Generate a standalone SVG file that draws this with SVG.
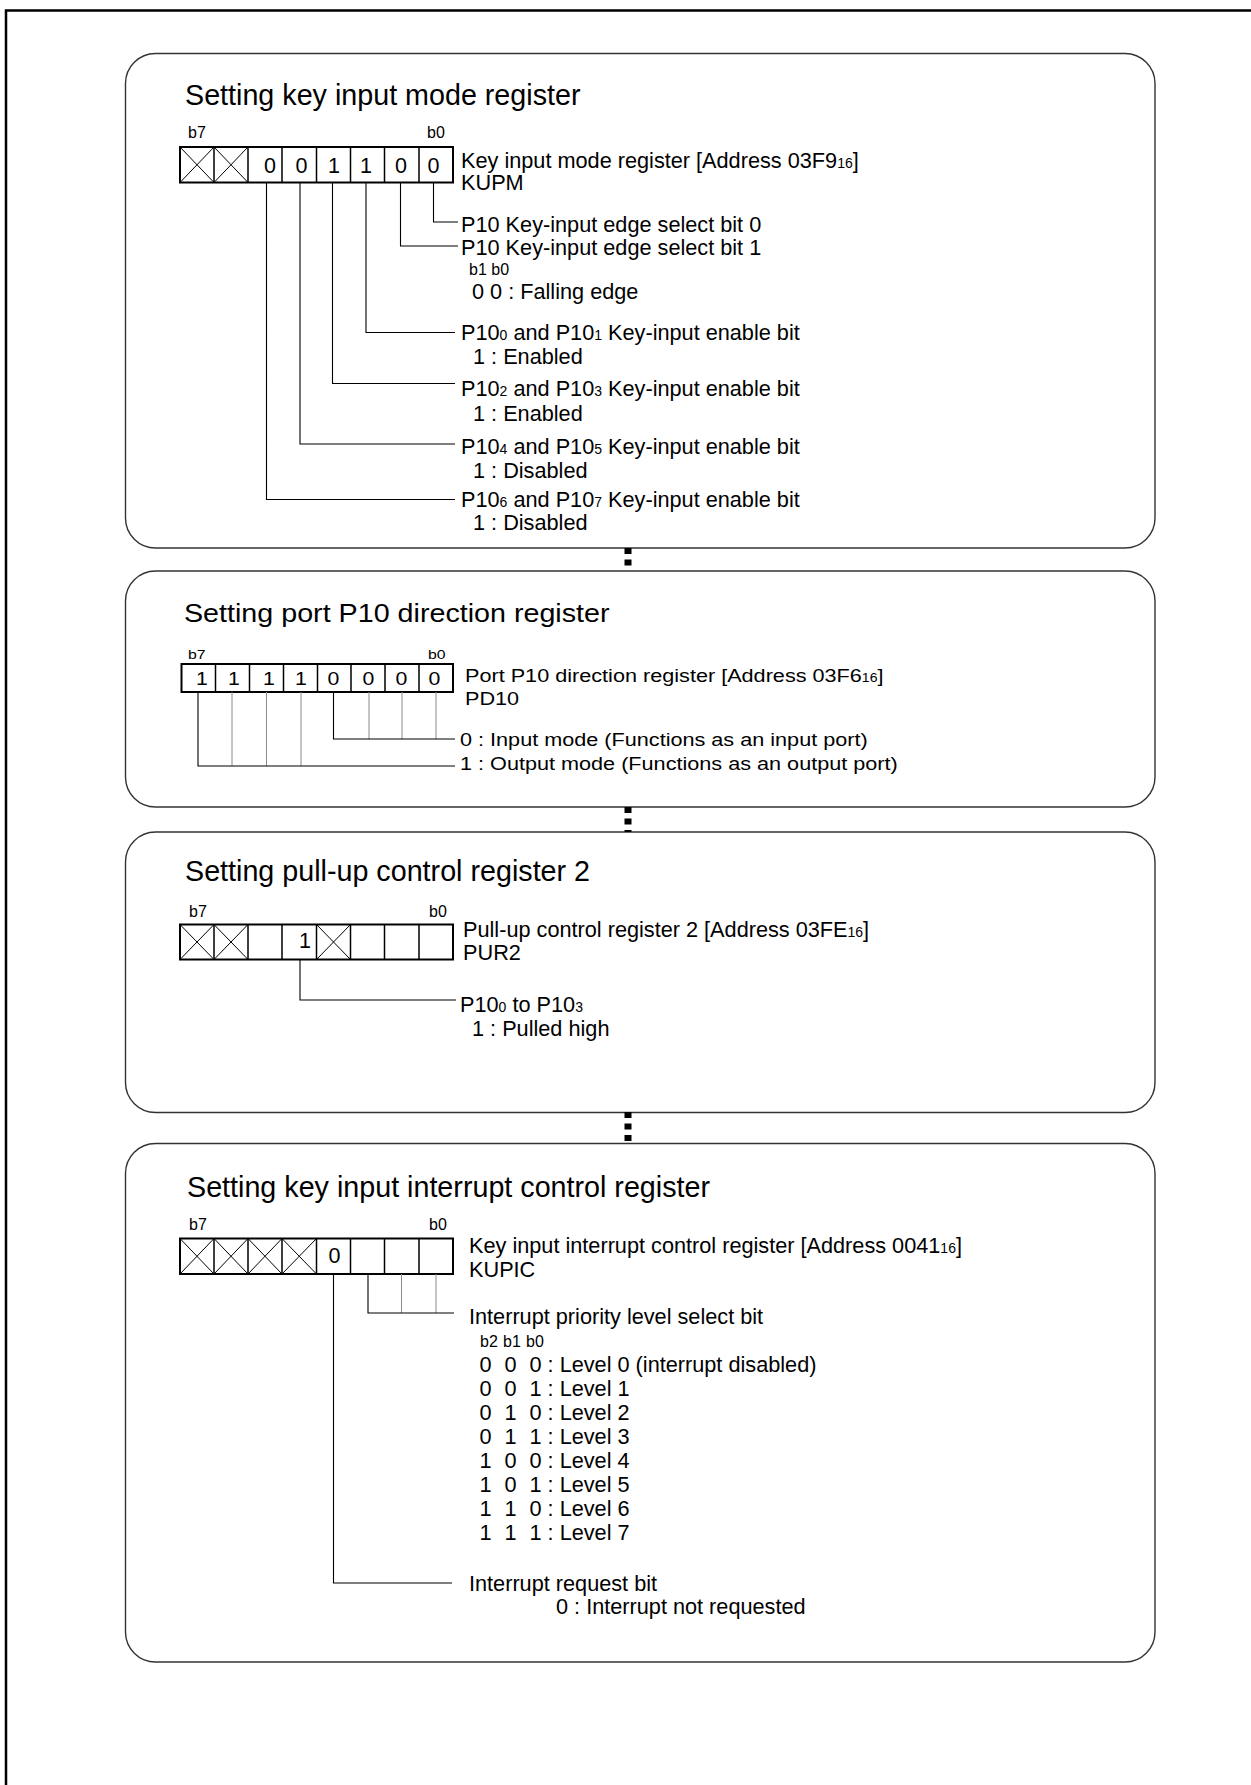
<svg xmlns="http://www.w3.org/2000/svg" width="1251" height="1785" viewBox="0 0 1251 1785">
<style>
text{font-family:"Liberation Sans",Arial,Helvetica,sans-serif;fill:#000}
.t{font-size:28.7px}
.b{font-size:21.7px}
.sub{font-size:14px}
.sm{font-size:16px}
.d{font-size:21.5px;text-anchor:middle}
.t2{font-size:25.5px}
.b2{font-size:18.5px}
.sub2{font-size:12px}
.sm2{font-size:13.5px}
.d2{font-size:18.5px;text-anchor:middle}
.frame{fill:none;stroke:#000;stroke-width:2.5}
.panel{fill:#fff;stroke:#333;stroke-width:1.4}
.reg{fill:#fff;stroke:#000;stroke-width:2}
.cell{stroke:#000;stroke-width:1.5;fill:none}
.x{stroke:#000;stroke-width:1;fill:none}
.ld{fill:none;stroke:#000;stroke-width:1.1}
.lg{fill:none;stroke:#8a8a8a;stroke-width:1}
.conn{stroke:#000;stroke-width:7;stroke-dasharray:6 5.5;fill:none}
</style>
<rect class="frame" x="6" y="10.5" width="1300" height="1800"/>

<g id="kupm">
<rect class="panel" x="125.5" y="53.5" width="1029.5" height="494.5" rx="30"/>
<text class="t" x="185" y="105">Setting key input mode register</text>
<text class="sm" x="188" y="138">b7</text>
<text class="sm" x="427" y="138">b0</text>
<rect class="reg" x="180" y="147" width="273" height="35.5"/>
<path class="cell" d="M214,147V182.5M248,147V182.5M282,147V182.5M316.5,147V182.5M350.5,147V182.5M384.5,147V182.5M419,147V182.5"/>
<path class="x" d="M180,147L214,182.5M214,147L180,182.5M214,147L248,182.5M248,147L214,182.5"/>
<text class="d" x="270" y="173">0</text>
<text class="d" x="301.5" y="173">0</text>
<text class="d" x="334" y="173">1</text>
<text class="d" x="366" y="173">1</text>
<text class="d" x="401" y="173">0</text>
<text class="d" x="433.5" y="173">0</text>
<text class="b" x="461" y="168">Key input mode register [Address 03F9<tspan class="sub">16</tspan>]</text>
<text class="b" x="461" y="190">KUPM</text>
<path class="ld" d="M433.5,182.5V222H458M400.5,182.5V246H458M366,182.5V332.5H455M332.5,182.5V383.5H455M300,182.5V444H455M266.5,182.5V499.5H455"/>
<text class="b" x="461" y="231.5">P10 Key-input edge select bit 0</text>
<text class="b" x="461" y="255">P10 Key-input edge select bit 1</text>
<text class="sm" x="469" y="275">b1 b0</text>
<text class="b" x="472" y="298.5">0 0 : Falling edge</text>
<text class="b" x="461" y="339.5">P10<tspan class="sub">0</tspan> and P10<tspan class="sub">1</tspan> Key-input enable bit</text>
<text class="b" x="473" y="364">1 : Enabled</text>
<text class="b" x="461" y="396">P10<tspan class="sub">2</tspan> and P10<tspan class="sub">3</tspan> Key-input enable bit</text>
<text class="b" x="473" y="420.5">1 : Enabled</text>
<text class="b" x="461" y="454">P10<tspan class="sub">4</tspan> and P10<tspan class="sub">5</tspan> Key-input enable bit</text>
<text class="b" x="473" y="477.5">1 : Disabled</text>
<text class="b" x="461" y="507">P10<tspan class="sub">6</tspan> and P10<tspan class="sub">7</tspan> Key-input enable bit</text>
<text class="b" x="473" y="530">1 : Disabled</text>
</g>

<g id="pd10">
<rect class="panel" x="125.5" y="571" width="1029.5" height="236" rx="30"/>
<text class="t2" transform="translate(184 621.5) scale(1.125 1)">Setting port P10 direction register</text>
<text class="sm2" transform="translate(188 659) scale(1.17 1)">b7</text>
<text class="sm2" transform="translate(428 659) scale(1.17 1)">b0</text>
<rect class="reg" x="181.5" y="664" width="271.5" height="28"/>
<path class="cell" d="M215.5,664V692M249.5,664V692M283.5,664V692M317.5,664V692M351,664V692M385,664V692M419,664V692"/>
<text class="d2" transform="translate(202 685) scale(1.15 1)">1</text>
<text class="d2" transform="translate(234 685) scale(1.15 1)">1</text>
<text class="d2" transform="translate(269 685) scale(1.15 1)">1</text>
<text class="d2" transform="translate(301 685) scale(1.15 1)">1</text>
<text class="d2" transform="translate(333.5 685) scale(1.15 1)">0</text>
<text class="d2" transform="translate(368.5 685) scale(1.15 1)">0</text>
<text class="d2" transform="translate(401.5 685) scale(1.15 1)">0</text>
<text class="d2" transform="translate(434.5 685) scale(1.15 1)">0</text>
<text class="b2" transform="translate(465 682) scale(1.17 1)">Port P10 direction register [Address 03F6<tspan class="sub2">16</tspan>]</text>
<text class="b2" transform="translate(465 705) scale(1.17 1)">PD10</text>
<path class="lg" d="M232,692V766M266.5,692V766M301,692V766M369,692V739M402,692V739M436,692V739"/>
<path class="ld" d="M198,692V766H455M333.5,692V739H455"/>
<text class="b2" transform="translate(460 746) scale(1.17 1)">0 : Input mode (Functions as an input port)</text>
<text class="b2" transform="translate(460 770) scale(1.17 1)">1 : Output mode (Functions as an output port)</text>
</g>

<g id="pur2">
<rect class="panel" x="125.5" y="832" width="1029.5" height="280.5" rx="30"/>
<text class="t" x="185" y="881">Setting pull-up control register 2</text>
<text class="sm" x="189" y="917">b7</text>
<text class="sm" x="429" y="917">b0</text>
<rect class="reg" x="180" y="924.5" width="273" height="35"/>
<path class="cell" d="M214,924.5V959.5M248,924.5V959.5M282,924.5V959.5M316.5,924.5V959.5M350.5,924.5V959.5M384.5,924.5V959.5M419,924.5V959.5"/>
<path class="x" d="M180,924.5L214,959.5M214,924.5L180,959.5M214,924.5L248,959.5M248,924.5L214,959.5M316.5,924.5L350.5,959.5M350.5,924.5L316.5,959.5"/>
<text class="d" x="305" y="948">1</text>
<text class="b" x="463" y="936.5">Pull-up control register 2 [Address 03FE<tspan class="sub">16</tspan>]</text>
<text class="b" x="463" y="960">PUR2</text>
<path class="ld" d="M300,959.5V1000H456"/>
<text class="b" x="460" y="1011.5">P10<tspan class="sub">0</tspan> to P10<tspan class="sub">3</tspan></text>
<text class="b" x="472" y="1036">1 : Pulled high</text>
</g>

<g id="kupic">
<rect class="panel" x="125.5" y="1143.5" width="1029.5" height="518.5" rx="30"/>
<text class="t" x="187" y="1197">Setting key input interrupt control register</text>
<text class="sm" x="189" y="1230">b7</text>
<text class="sm" x="429" y="1230">b0</text>
<rect class="reg" x="180" y="1238.5" width="273" height="35.5"/>
<path class="cell" d="M214,1238.5V1274M248,1238.5V1274M282,1238.5V1274M316.5,1238.5V1274M350.5,1238.5V1274M384.5,1238.5V1274M419,1238.5V1274"/>
<path class="x" d="M180,1238.5L214,1274M214,1238.5L180,1274M214,1238.5L248,1274M248,1238.5L214,1274M248,1238.5L282,1274M282,1238.5L248,1274M282,1238.5L316.5,1274M316.5,1238.5L282,1274"/>
<text class="d" x="334.5" y="1263">0</text>
<text class="b" x="469" y="1253">Key input interrupt control register [Address 0041<tspan class="sub">16</tspan>]</text>
<text class="b" x="469" y="1277">KUPIC</text>
<path class="lg" d="M401.5,1274V1313M436,1274V1313"/>
<path class="ld" d="M368,1274V1313H454M333.5,1274V1583H452"/>
<text class="b" x="469" y="1323.5">Interrupt priority level select bit</text>
<text class="sm" y="1347"><tspan x="480">b2</tspan><tspan x="503">b1</tspan><tspan x="526">b0</tspan></text>
<text class="b" y="1371.5"><tspan x="479.5">0</tspan><tspan x="504.5">0</tspan><tspan x="529.5">0 : Level 0 (interrupt disabled)</tspan></text>
<text class="b" y="1395.5"><tspan x="479.5">0</tspan><tspan x="504.5">0</tspan><tspan x="529.5">1 : Level 1</tspan></text>
<text class="b" y="1419.5"><tspan x="479.5">0</tspan><tspan x="504.5">1</tspan><tspan x="529.5">0 : Level 2</tspan></text>
<text class="b" y="1443.5"><tspan x="479.5">0</tspan><tspan x="504.5">1</tspan><tspan x="529.5">1 : Level 3</tspan></text>
<text class="b" y="1467.5"><tspan x="479.5">1</tspan><tspan x="504.5">0</tspan><tspan x="529.5">0 : Level 4</tspan></text>
<text class="b" y="1491.5"><tspan x="479.5">1</tspan><tspan x="504.5">0</tspan><tspan x="529.5">1 : Level 5</tspan></text>
<text class="b" y="1515.5"><tspan x="479.5">1</tspan><tspan x="504.5">1</tspan><tspan x="529.5">0 : Level 6</tspan></text>
<text class="b" y="1539.5"><tspan x="479.5">1</tspan><tspan x="504.5">1</tspan><tspan x="529.5">1 : Level 7</tspan></text>
<text class="b" x="469" y="1590.5">Interrupt request bit</text>
<text class="b" x="556" y="1614">0 : Interrupt not requested</text>
</g>

<g id="connectors">
<path class="conn" d="M628,548V571M628,807V832M628,1112V1144"/>
</g>
</svg>
